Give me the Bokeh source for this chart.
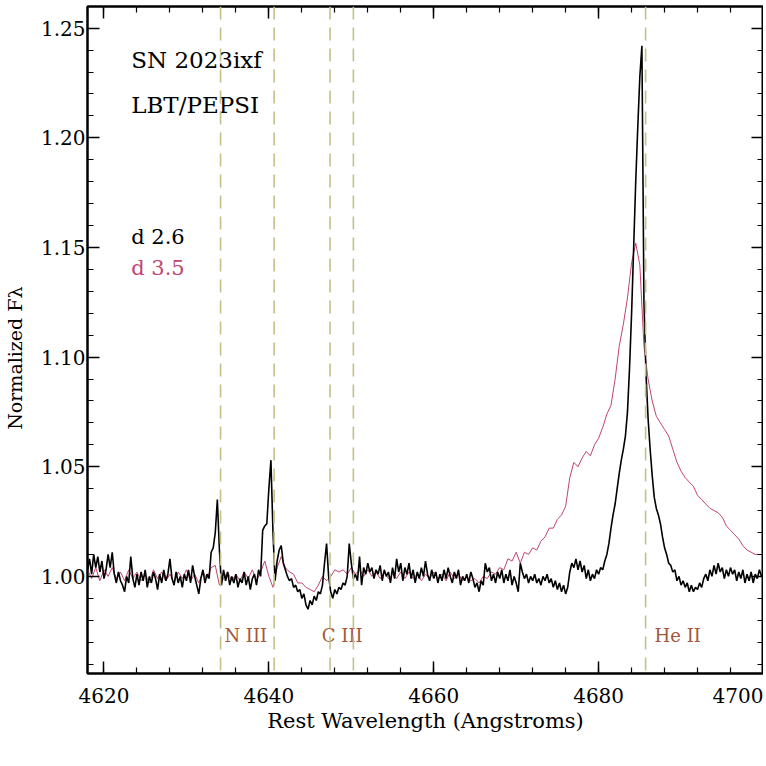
import numpy as np
from bokeh.plotting import figure
from bokeh.models import (Range1d, LinearAxis, Span, FixedTicker,
                          PrintfTickFormatter)
from bokeh.embed import file_html
from bokeh.resources import INLINE
from bokeh.core.properties import value

# ---------------- data ----------------
WAVE_START = 4618.0
STEP_D26 = 0.25   # Angstrom sampling of the day-2.6 spectrum
STEP_D35 = 0.5    # Angstrom sampling of the day-3.5 spectrum

# day 2.6 normalized flux, 4 samples per Angstrom starting at 4618.0
flux_d26 = [
    1.003, 1.008, 1.001, 1.010,   # 4618
    1.004, 1.009, 1.002, 1.007,   # 4619
    0.999, 1.003, 1.010, 1.004,   # 4620
    1.011, 1.001, 0.997, 1.002,   # 4621
    0.998, 0.996, 0.993, 1.000,   # 4622
    0.997, 1.009, 0.999, 0.995,   # 4623
    1.001, 0.996, 1.002, 0.998,   # 4624
    1.003, 0.995, 1.000, 0.997,   # 4625
    1.002, 0.999, 0.994, 1.001,   # 4626
    0.997, 1.003, 0.998, 1.001,   # 4627
    1.008, 0.999, 0.996, 1.002,   # 4628
    0.997, 1.000, 0.995, 1.001,   # 4629
    0.998, 1.003, 0.997, 1.005,   # 4630
    1.000, 0.996, 0.992, 0.999,   # 4631
    1.003, 0.997, 1.001, 0.999,   # 4632
    1.011, 1.013, 1.020, 1.035,   # 4633
    1.012, 0.996, 1.003, 0.998,   # 4634
    1.002, 0.996, 1.000, 0.997,   # 4635
    1.001, 0.995, 0.999, 0.997,   # 4636
    1.002, 0.996, 1.000, 0.994,   # 4637
    0.999, 1.001, 0.996, 1.003,   # 4638
    1.000, 1.021, 1.023, 1.024,   # 4639
    1.040, 1.053, 1.020, 0.998,   # 4640
    1.007, 1.012, 1.014, 1.006,   # 4641
    1.003, 1.000, 0.998, 0.999,   # 4642
    0.995, 0.996, 0.993, 0.994,   # 4643
    0.990, 0.992, 0.987, 0.985,   # 4644
    0.989, 0.987, 0.991, 0.989,   # 4645
    0.993, 0.992, 0.996, 1.006,   # 4646
    1.015, 1.000, 0.993, 0.990,   # 4647
    0.994, 0.992, 0.995, 0.994,   # 4648
    0.997, 0.996, 1.000, 1.015,   # 4649
    1.006, 0.999, 1.001, 0.998,   # 4650
    1.009, 0.996, 1.004, 1.001,   # 4651
    1.006, 1.002, 1.004, 0.999,   # 4652
    1.003, 1.001, 1.005, 0.998,   # 4653
    1.003, 1.000, 1.002, 0.997,   # 4654
    1.004, 0.999, 1.008, 1.002,   # 4655
    1.006, 0.998, 1.004, 1.001,   # 4656
    1.006, 0.999, 1.003, 0.997,   # 4657
    1.002, 0.999, 1.004, 1.000,   # 4658
    1.007, 1.001, 0.998, 1.003,   # 4659
    0.999, 1.002, 0.997, 1.001,   # 4660
    0.998, 1.003, 0.999, 1.004,   # 4661
    1.000, 0.997, 1.002, 0.999,   # 4662
    1.003, 0.996, 1.000, 0.998,   # 4663
    1.001, 0.997, 1.002, 0.999,   # 4664
    0.995, 0.997, 0.993, 0.998,   # 4665
    0.996, 1.006, 1.002, 1.004,   # 4666
    0.998, 1.001, 0.997, 1.002,   # 4667
    0.999, 1.003, 0.997, 1.001,   # 4668
    0.998, 1.003, 0.996, 1.000,   # 4669
    0.997, 0.993, 1.006, 1.002,   # 4670
    0.999, 1.001, 0.997, 1.000,   # 4671
    0.998, 1.001, 0.997, 0.999,   # 4672
    0.996, 1.000, 0.998, 1.001,   # 4673
    0.997, 0.999, 0.995, 0.998,   # 4674
    0.994, 0.997, 0.993, 0.996,   # 4675
    0.992, 0.995, 1.002, 1.006,   # 4676
    1.004, 1.008, 1.003, 1.007,   # 4677
    1.002, 1.005, 0.999, 1.003,   # 4678
    0.998, 1.001, 0.999, 1.003,   # 4679
    1.001, 1.004, 1.003, 1.007,   # 4680
    1.010, 1.015, 1.022, 1.028,   # 4681
    1.033, 1.040, 1.047, 1.053,   # 4682
    1.058, 1.064, 1.075, 1.095,   # 4683
    1.120, 1.150, 1.180, 1.205,   # 4684
    1.228, 1.242, 1.125, 1.092,   # 4685
    1.072, 1.058, 1.046, 1.036,   # 4686
    1.031, 1.028, 1.024, 1.018,   # 4687
    1.013, 1.010, 1.006, 1.005,   # 4688
    1.002, 1.003, 0.998, 1.000,   # 4689
    0.996, 0.998, 0.995, 0.997,   # 4690
    0.993, 0.996, 0.993, 0.995,   # 4691
    0.994, 0.997, 0.995, 0.999,   # 4692
    1.001, 0.998, 1.003, 1.000,   # 4693
    1.005, 1.001, 1.006, 1.002,   # 4694
    1.004, 0.999, 1.003, 1.000,   # 4695
    1.004, 1.001, 1.003, 0.998,   # 4696
    1.002, 0.999, 1.003, 0.997,   # 4697
    1.001, 0.998, 1.002, 0.997,   # 4698
    1.001, 0.999, 1.003, 1.000,   # 4699
    1.001,                        # 4700
]

# day 3.5 normalized flux, 2 samples per Angstrom starting at 4618.0
flux_d35 = [
    1.003, 0.999,   # 4618
    1.004, 0.998,   # 4619
    1.003, 1.000,   # 4620
    1.004, 0.999,   # 4621
    1.002, 0.998,   # 4622
    1.003, 0.999,   # 4623
    1.002, 0.998,   # 4624
    1.001, 0.997,   # 4625
    1.003, 0.999,   # 4626
    1.002, 0.998,   # 4627
    1.001, 0.997,   # 4628
    1.002, 0.999,   # 4629
    1.003, 0.998,   # 4630
    1.001, 0.997,   # 4631
    1.002, 0.999,   # 4632
    1.004, 1.005,   # 4633
    0.996, 0.999,   # 4634
    1.002, 0.998,   # 4635
    1.001, 0.998,   # 4636
    1.002, 0.999,   # 4637
    1.003, 0.998,   # 4638
    1.002, 1.007,   # 4639
    1.000, 0.995,   # 4640
    1.004, 1.009,   # 4641
    1.004, 1.002,   # 4642
    1.001, 0.997,   # 4643
    0.997, 0.995,   # 4644
    0.994, 0.993,   # 4645
    0.996, 1.000,   # 4646
    0.998, 1.000,   # 4647
    1.003, 1.002,   # 4648
    1.003, 1.001,   # 4649
    1.004, 1.001,   # 4650
    1.003, 1.000,   # 4651
    1.003, 1.000,   # 4652
    1.002, 0.999,   # 4653
    1.002, 0.999,   # 4654
    1.001, 0.999,   # 4655
    1.002, 0.999,   # 4656
    1.002, 0.999,   # 4657
    1.001, 0.998,   # 4658
    1.001, 0.999,   # 4659
    1.002, 0.999,   # 4660
    1.001, 0.998,   # 4661
    1.002, 0.999,   # 4662
    1.001, 0.998,   # 4663
    1.000, 0.998,   # 4664
    0.999, 0.997,   # 4665
    1.000, 0.999,   # 4666
    1.002, 1.001,   # 4667
    1.004, 1.003,   # 4668
    1.008, 1.007,   # 4669
    1.011, 1.006,   # 4670
    1.011, 1.010,   # 4671
    1.013, 1.012,   # 4672
    1.016, 1.018,   # 4673
    1.022, 1.022,   # 4674
    1.026, 1.028,   # 4675
    1.032, 1.045,   # 4676
    1.052, 1.050,   # 4677
    1.054, 1.057,   # 4678
    1.055, 1.060,   # 4679
    1.063, 1.068,   # 4680
    1.074, 1.078,   # 4681
    1.090, 1.105,   # 4682
    1.115, 1.127,   # 4683
    1.143, 1.152,   # 4684
    1.142, 1.105,   # 4685
    1.090, 1.080,   # 4686
    1.073, 1.070,   # 4687
    1.067, 1.064,   # 4688
    1.058, 1.052,   # 4689
    1.048, 1.045,   # 4690
    1.043, 1.041,   # 4691
    1.037, 1.035,   # 4692
    1.033, 1.031,   # 4693
    1.030, 1.029,   # 4694
    1.027, 1.023,   # 4695
    1.021, 1.019,   # 4696
    1.017, 1.014,   # 4697
    1.012, 1.011,   # 4698
    1.010, 1.010,   # 4699
    1.010,          # 4700
]

line_waves = [4634.14, 4640.64, 4647.42, 4650.25, 4685.70]
ion_labels = ["N III", "C III", "He II"]
ion_label_waves = [4637.2, 4648.9, 4689.6]
ion_label_flux = [0.973, 0.973, 0.973]

series_names = ["d 2.6", "d 3.5"]
x_ticks = [4620, 4640, 4660, 4680, 4700]
y_ticks = [1.00, 1.05, 1.10, 1.15, 1.20, 1.25]

# ---------------- style ----------------
FONT = "DejaVu Serif"
C_D26 = "#000000"
C_D35 = "#c0446e"
C_DASH = "#c3c08a"
C_ION = "#a3583a"

wave_d26 = [WAVE_START + STEP_D26 * i for i in range(len(flux_d26))]
wave_d35 = [WAVE_START + STEP_D35 * i for i in range(len(flux_d35))]

p = figure(width=763, height=760,
           x_range=Range1d(4618.0, 4700.0), y_range=Range1d(0.9557, 1.2599),
           output_backend="svg", toolbar_location=None,
           min_border_left=84, min_border_right=0, min_border_top=6,
           min_border_bottom=87)
p.grid.visible = False
p.background_fill_color = "white"
p.border_fill_color = "white"
p.outline_line_color = "black"
p.outline_line_width = 2

x_minor = [4616 + 4 * i for i in range(23)]
y_minor = [round(0.95 + 0.01 * i, 2) for i in range(32)]
xticker = FixedTicker(ticks=x_ticks, minor_ticks=x_minor)
yticker = FixedTicker(ticks=y_ticks, minor_ticks=y_minor)


def style_axis(ax):
    ax.axis_line_width = 2
    ax.axis_line_color = "black"
    ax.major_tick_in = 12
    ax.major_tick_out = 0
    ax.minor_tick_in = 6
    ax.minor_tick_out = 0
    ax.major_tick_line_width = 1.5
    ax.minor_tick_line_width = 1.2
    ax.major_tick_line_color = "black"
    ax.minor_tick_line_color = "black"
    ax.major_label_text_font = FONT
    ax.major_label_text_font_size = "20px"
    ax.major_label_text_color = "black"


xa = p.xaxis[0]
xa.ticker = xticker
xa.formatter = PrintfTickFormatter(format="%d")
style_axis(xa)
xa.major_label_standoff = 14
xa.axis_label = "Rest Wavelength (Angstroms)"
xa.axis_label_text_font = FONT
xa.axis_label_text_font_size = "21px"
xa.axis_label_text_font_style = "normal"
xa.axis_label_text_color = "black"
xa.axis_label_standoff = 3

ya = p.yaxis[0]
ya.ticker = yticker
ya.formatter = PrintfTickFormatter(format="%.2f")
style_axis(ya)
ya.major_label_standoff = 2
ya.axis_label = "Normalized F\u03bb" + "\u00a0" * 6
ya.axis_label_text_font = FONT
ya.axis_label_text_font_size = "19px"
ya.axis_label_text_font_style = "normal"
ya.axis_label_text_color = "black"
ya.axis_label_standoff = 12

# unlabeled mirror axes (ticks only) on top and right
top = LinearAxis(ticker=xticker)
style_axis(top)
top.major_label_text_font_size = "1px"
top.major_label_standoff = 0
top.major_label_overrides = {t: "" for t in x_ticks}
p.add_layout(top, "above")
right = LinearAxis(ticker=yticker)
style_axis(right)
right.major_label_text_font_size = "1px"
right.major_label_standoff = 0
right.major_label_overrides = {t: "" for t in y_ticks}
p.add_layout(right, "right")

# spectra
p.line(wave_d35, flux_d35, line_color=C_D35, line_width=1.0)
p.line(wave_d26, flux_d26, line_color=C_D26, line_width=1.6)

# line markers
for w in line_waves:
    p.add_layout(Span(location=w, dimension="height", line_color=C_DASH,
                      line_width=1.6, line_dash="13 8"))

# ion labels
p.text(x=ion_label_waves, y=ion_label_flux, text=ion_labels,
       text_font=value(FONT), text_font_size=value("18px"),
       text_color=C_ION, text_align="center", text_baseline="middle")

# title texts
p.text(x=[4623.3, 4623.3], y=[1.2356, 1.2151],
       text=["SN 2023ixf", "LBT/PEPSI"],
       text_font=value(FONT), text_font_size=value("23px"),
       text_color="black", text_align="left", text_baseline="middle")

# legend texts
p.text(x=[4623.3, 4623.3], y=[1.1548, 1.1406], text=series_names,
       text_font=value(FONT), text_font_size=value("21px"),
       text_color=[C_D26, C_D35], text_align="left", text_baseline="middle")

open("out.html", "w").write(file_html(p, INLINE))
